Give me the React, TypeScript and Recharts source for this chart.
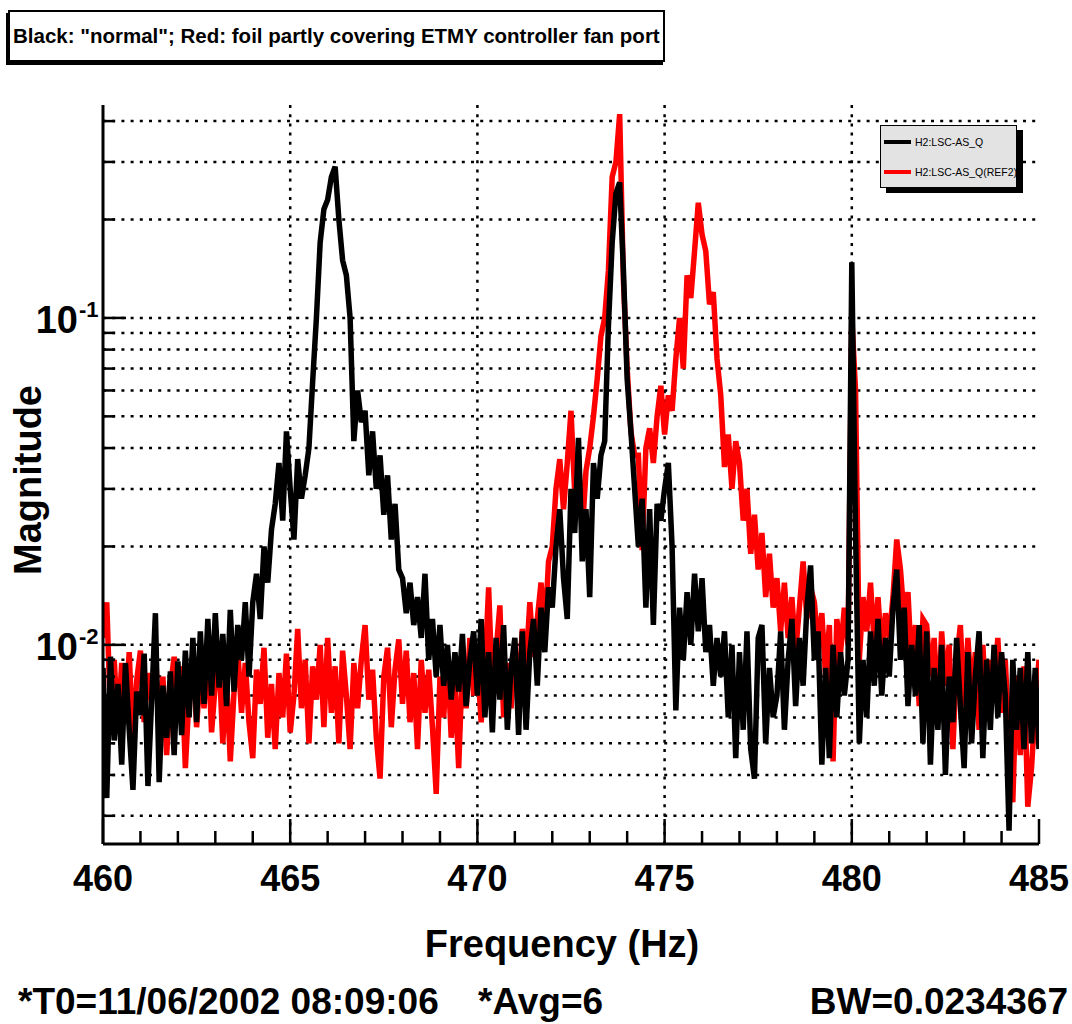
import { LineChart, Line, XAxis, YAxis, CartesianGrid, Legend } from "recharts";

// spectrum bins start at 460 Hz, one every 0.1 Hz
const FREQ_START = 460;
const FREQ_STEP = 0.1;

// H2:LSC-AS_Q magnitude, units of 1e-3
const asQ = [
  8.5, 3.4, 9.2, 5.1, 7.6, 4.3, 8.8, 5.5, 3.6, 7.2,
  6.1, 9.4, 3.7, 6.8, 12.5, 3.8, 7.5, 5.2, 8.3, 4.6,
  8.9, 5.3, 9.6, 6.0, 10.5, 5.8, 11.0, 6.6, 12.0, 7.0,
  12.5, 7.4, 10.8, 6.5, 12.8, 7.2, 11.5, 9.0, 13.5, 8.0,
  13.5, 16.5, 12.0, 20.0, 15.5, 22.5, 27.0, 36.0, 24.0, 45.0,
  30, 21, 37, 28, 33, 40, 64, 100, 170, 215,
  230, 270, 290, 200, 150, 135, 100, 42, 60, 48,
  52, 33, 45, 30, 38, 25, 33, 21, 27, 17,
  16, 12.5, 15.5, 11.5, 14, 10.5, 16.5, 9.0, 12.0, 8.0,
  11.5, 7.5, 10.0, 6.8, 9.5, 7.2, 10.8, 6.5, 9.0, 11.0,
  7.0, 12.0, 6.0, 9.5, 5.4, 10.5, 6.8, 11.5, 5.5, 8.5,
  10.5, 5.3, 11.0, 5.5, 9.5, 12.0, 7.5, 13.0, 9.5, 15.0,
  13.0, 20.0, 26.0, 16.0, 12.0, 30.0, 22.0, 43.0, 18.0, 26.0,
  14, 36, 28, 38, 42, 95, 170, 240, 260, 140,
  65, 45, 30, 20, 28, 13, 26, 11.5, 27, 24,
  30, 36, 20, 6.3, 13.0, 9.0, 14.5, 10.0, 16.5, 11.0,
  16.0, 9.5, 11.5, 7.5, 10.5, 8.0, 11.0, 6.0, 10.0, 4.5,
  9.5, 5.5, 11.0, 4.8, 3.9, 10.5, 11.5, 5.0, 8.5, 6.0,
  7.0, 11.0, 5.5, 9.0, 12.0, 6.5, 10.5, 7.5, 13.0, 17.5,
  9.0, 11.0, 4.3, 8.5, 4.5, 10.0, 6.0, 9.5, 7.0, 9.0,
  148, 22, 5.0, 9.0, 6.0, 11.0, 7.5, 12.0, 7.0, 10.5,
  8.0, 13.0, 17.0, 9.0, 13.0, 6.5, 10.0, 7.0, 11.5, 5.0,
  11.0, 4.3, 8.5, 5.5, 10.0, 4.0, 8.0, 5.8, 10.5, 6.5,
  4.2, 9.5, 5.0, 8.0, 11.0, 4.5, 9.0, 5.5, 10.0, 6.0,
  9.5, 7.0, 2.7, 9.0, 5.5, 8.5, 4.8, 9.5, 5.0, 8.5,
  4.8,
];

// H2:LSC-AS_Q(REF2) magnitude, units of 1e-3
const asQRef2 = [
  10.5, 13.5, 6.0, 9.0, 5.5, 8.8, 6.2, 9.5, 5.0, 7.8,
  9.6, 5.8, 8.2, 6.8, 9.8, 5.2, 8.0, 4.6, 7.4, 9.2,
  6.0, 8.6, 4.2, 7.0, 9.4, 5.6, 8.4, 6.4, 10.2, 5.4,
  7.6, 9.0, 5.0, 8.0, 4.4, 7.2, 9.6, 6.2, 8.8, 5.8,
  4.5, 8.4, 6.6, 9.8, 5.2, 7.6, 4.8, 8.2, 6.0, 9.4,
  5.4, 7.0, 11.2, 6.4, 9.0, 5.0, 8.6, 6.8, 10.0, 5.6,
  10.5, 6.2, 8.6, 5.0, 9.6, 7.0, 4.8, 8.8, 6.4, 9.0,
  11.5, 6.8, 8.4, 5.2, 3.9, 8.0, 9.8, 5.6, 8.4, 10.4,
  6.6, 9.6, 5.8, 8.2, 4.8, 9.0, 6.2, 8.4, 5.6, 3.5,
  8.0, 6.0, 9.4, 5.2, 7.6, 4.2, 8.8, 6.4, 10.5, 7.0,
  9.0, 5.8, 8.4, 15.0, 7.2, 9.6, 13.2, 6.0, 8.8, 6.4,
  10.0, 7.0, 11.2, 8.6, 13.5, 9.2, 12.0, 15.5, 11.0, 18.0,
  20, 30, 37, 26, 36, 52, 29, 38, 22, 34,
  40, 50, 65, 88, 100, 140, 270, 300, 420, 130,
  70, 45, 38, 38, 19.5, 40, 46, 36, 50, 62,
  44, 58, 52, 75, 100, 70, 135, 115, 160, 225,
  180, 160, 110, 120, 75, 58, 35, 44, 30, 42,
  36, 24, 30, 19, 25, 17, 22, 14, 19, 13,
  16, 11, 15.5, 10.5, 14.0, 9.5, 13.0, 18.0, 12.0, 15.0,
  13.5, 10.0, 12.5, 8.0, 11.5, 4.4, 12.0, 9.5, 13.0, 10.0,
  100, 60, 9.0, 14.0, 11.0, 15.5, 10.0, 14.0, 9.5, 12.5,
  10.5, 14.0, 21.0, 17.0, 12.0, 14.5, 8.5, 11.5, 6.5, 12.0,
  11.5, 8.0, 10.5, 6.0, 11.0, 7.5, 10.0, 4.8, 9.0, 11.5,
  6.5, 10.5, 7.0, 9.5, 5.5, 10.0, 6.0, 9.0, 7.5, 10.5,
  6.2, 9.0, 5.0, 3.3, 8.0, 4.6, 8.6, 3.2, 4.2, 6.5,
  9.0,
];

const freqTicks = [
  460, 461, 462, 463, 464, 465, 466, 467, 468, 469, 470, 471, 472,
  473, 474, 475, 476, 477, 478, 479, 480, 481, 482, 483, 484, 485,
];
const freqLabels = [460, 465, 470, 475, 480, 485];
const freqGrid = [465, 470, 475, 480];
const magTicks = [
  0.003, 0.004, 0.005, 0.006, 0.007, 0.008, 0.009,
  0.01, 0.02, 0.03, 0.04, 0.05, 0.06, 0.07, 0.08, 0.09,
  0.1, 0.2, 0.3, 0.4,
];
const magDecades = [0.01, 0.1];
const magExponents = ["-2", "-1"];

const series = [
  { key: "black", name: "H2:LSC-AS_Q", color: "#000000" },
  { key: "red", name: "H2:LSC-AS_Q(REF2)", color: "#ff0000" },
];

const data = asQ.map((v, i) => ({
  f: +(FREQ_START + i * FREQ_STEP).toFixed(2),
  black: v / 1000,
  red: asQRef2[i] / 1000,
}));

const FONT = '"Liberation Sans", Arial, Helvetica, sans-serif';

const BottomTick = ({ x, y, payload }: any) => {
  const major = freqLabels.includes(payload.value);
  return (
    <g>
      <line x1={x} x2={x} y1={y} y2={y - (major ? 25 : 13)} stroke="#000" strokeWidth={2.5} />
      {major && (
        <text x={x} y={y + 47} textAnchor="middle" fontFamily={FONT} fontWeight={700} fontSize={36} fill="#000">
          {payload.value}
        </text>
      )}
    </g>
  );
};

const TopTick = ({ x, y, payload }: any) => {
  const major = freqLabels.includes(payload.value);
  return <line x1={x} x2={x} y1={y} y2={y + (major ? 25 : 13)} stroke="#000" strokeWidth={2.5} />;
};

const LeftTick = ({ x, y, payload }: any) => {
  const d = magDecades.indexOf(payload.value);
  return (
    <g>
      <line x1={x} x2={x + (d >= 0 ? 23 : 12)} y1={y} y2={y} stroke="#000" strokeWidth={2.5} />
      {d >= 0 && (
        <g fontFamily={FONT} fontWeight={700} fill="#000">
          <text x={x - 25} y={y + 15} textAnchor="end" fontSize={38}>10</text>
          <text x={x - 24} y={y - 1} fontSize={22}>{magExponents[d]}</text>
        </g>
      )}
    </g>
  );
};

const RightTick = ({ x, y, payload }: any) => {
  const d = magDecades.indexOf(payload.value);
  return <line x1={x} x2={x - (d >= 0 ? 23 : 12)} y1={y} y2={y} stroke="#000" strokeWidth={2.5} />;
};

const LegendBox = () => (
  <div
    style={{
      width: 137,
      height: 63,
      boxSizing: "border-box",
      background: "#e3e3e3",
      border: "1.5px solid #000",
      boxShadow: "6px 5px 0 #000",
      fontFamily: FONT,
      fontSize: 10.5,
      color: "#000",
      position: "relative",
      overflow: "hidden",
    }}
  >
    {series.map((s, i) => (
      <div
        key={s.key}
        style={{ position: "absolute", left: 3, top: 10 + i * 30, display: "flex", alignItems: "center", whiteSpace: "nowrap" }}
      >
        <span style={{ display: "inline-block", width: 27, height: 4, background: s.color, marginRight: 4 }} />
        <span>{s.name}</span>
      </div>
    ))}
  </div>
);

export default function App() {
  return (
    <div style={{ position: "absolute", left: 0, top: 0, width: 1072, height: 1024, background: "#fff", overflow: "hidden" }}>
      <LineChart width={1072} height={1024} data={data} margin={{ top: 105, right: 33, bottom: 0, left: 0 }}>
        <CartesianGrid
          xAxisId="b"
          yAxisId="l"
          stroke="#000"
          strokeWidth={2.5}
          strokeDasharray="3 6.2"
          horizontalValues={magTicks}
          verticalValues={freqGrid}
        />
        <XAxis
          xAxisId="b"
          dataKey="f"
          type="number"
          domain={[460, 485]}
          allowDataOverflow
          ticks={freqTicks}
          interval={0}
          height={180}
          tickSize={0}
          tickMargin={0}
          tickLine={false}
          tick={<BottomTick />}
          axisLine={{ stroke: "#000", strokeWidth: 3 }}
        />
        <XAxis
          xAxisId="t"
          orientation="top"
          dataKey="f"
          type="number"
          domain={[460, 485]}
          allowDataOverflow
          ticks={freqTicks}
          interval={0}
          height={0}
          tickSize={0}
          tickMargin={0}
          tickLine={false}
          tick={<TopTick />}
          axisLine={{ stroke: "#000", strokeWidth: 3 }}
        />
        <YAxis
          yAxisId="l"
          type="number"
          scale="log"
          domain={[0.00246, 0.448]}
          allowDataOverflow
          ticks={magTicks}
          interval={0}
          width={103}
          tickSize={0}
          tickMargin={0}
          tickLine={false}
          tick={<LeftTick />}
          axisLine={{ stroke: "#000", strokeWidth: 3 }}
        />
        <YAxis
          yAxisId="r"
          orientation="right"
          type="number"
          scale="log"
          domain={[0.00246, 0.448]}
          allowDataOverflow
          ticks={magTicks}
          interval={0}
          width={0}
          tickSize={0}
          tickMargin={0}
          tickLine={false}
          tick={<RightTick />}
          axisLine={{ stroke: "#000", strokeWidth: 3 }}
        />
        <Line
          xAxisId="b"
          yAxisId="l"
          dataKey="red"
          name={series[1].name}
          stroke="#ff0000"
          strokeWidth={5.5}
          dot={false}
          isAnimationActive={false}
        />
        <Line
          xAxisId="b"
          yAxisId="l"
          dataKey="black"
          name={series[0].name}
          stroke="#000000"
          strokeWidth={5.5}
          dot={false}
          isAnimationActive={false}
        />
        <Legend
          layout="vertical"
          align="center"
          verticalAlign="middle"
          content={<LegendBox />}
          wrapperStyle={{ left: 880, top: 125, right: "auto", bottom: "auto", width: 137, height: 63 }}
        />
      </LineChart>

      <svg width={1072} height={1024} style={{ position: "absolute", left: 0, top: 0, pointerEvents: "none" }}>
        <g fontFamily={FONT} fontWeight={700} fill="#000">
          <text x={28} y={480} fontSize={38} textAnchor="middle" dominantBaseline="central" transform="rotate(-90 28 480)">
            Magnitude
          </text>
          <text x={562} y={957} fontSize={38} textAnchor="middle">Frequency (Hz)</text>
          <text x={18} y={1014} fontSize={37}>*T0=11/06/2002 08:09:06</text>
          <text x={478} y={1014} fontSize={37}>*Avg=6</text>
          <text x={1068} y={1014} fontSize={37} textAnchor="end">BW=0.0234367</text>
        </g>
      </svg>

      <div
        style={{
          position: "absolute",
          left: 8,
          top: 10,
          width: 657,
          height: 52,
          boxSizing: "border-box",
          border: "2px solid #000",
          boxShadow: "-2px 3px 0 #000",
          background: "#fff",
          overflow: "hidden",
          whiteSpace: "nowrap",
          fontFamily: FONT,
          fontWeight: 700,
          fontSize: 20.5,
          lineHeight: "48px",
          paddingLeft: 3,
        }}
      >
        Black: "normal"; Red: foil partly covering ETMY controller fan port
      </div>
    </div>
  );
}
